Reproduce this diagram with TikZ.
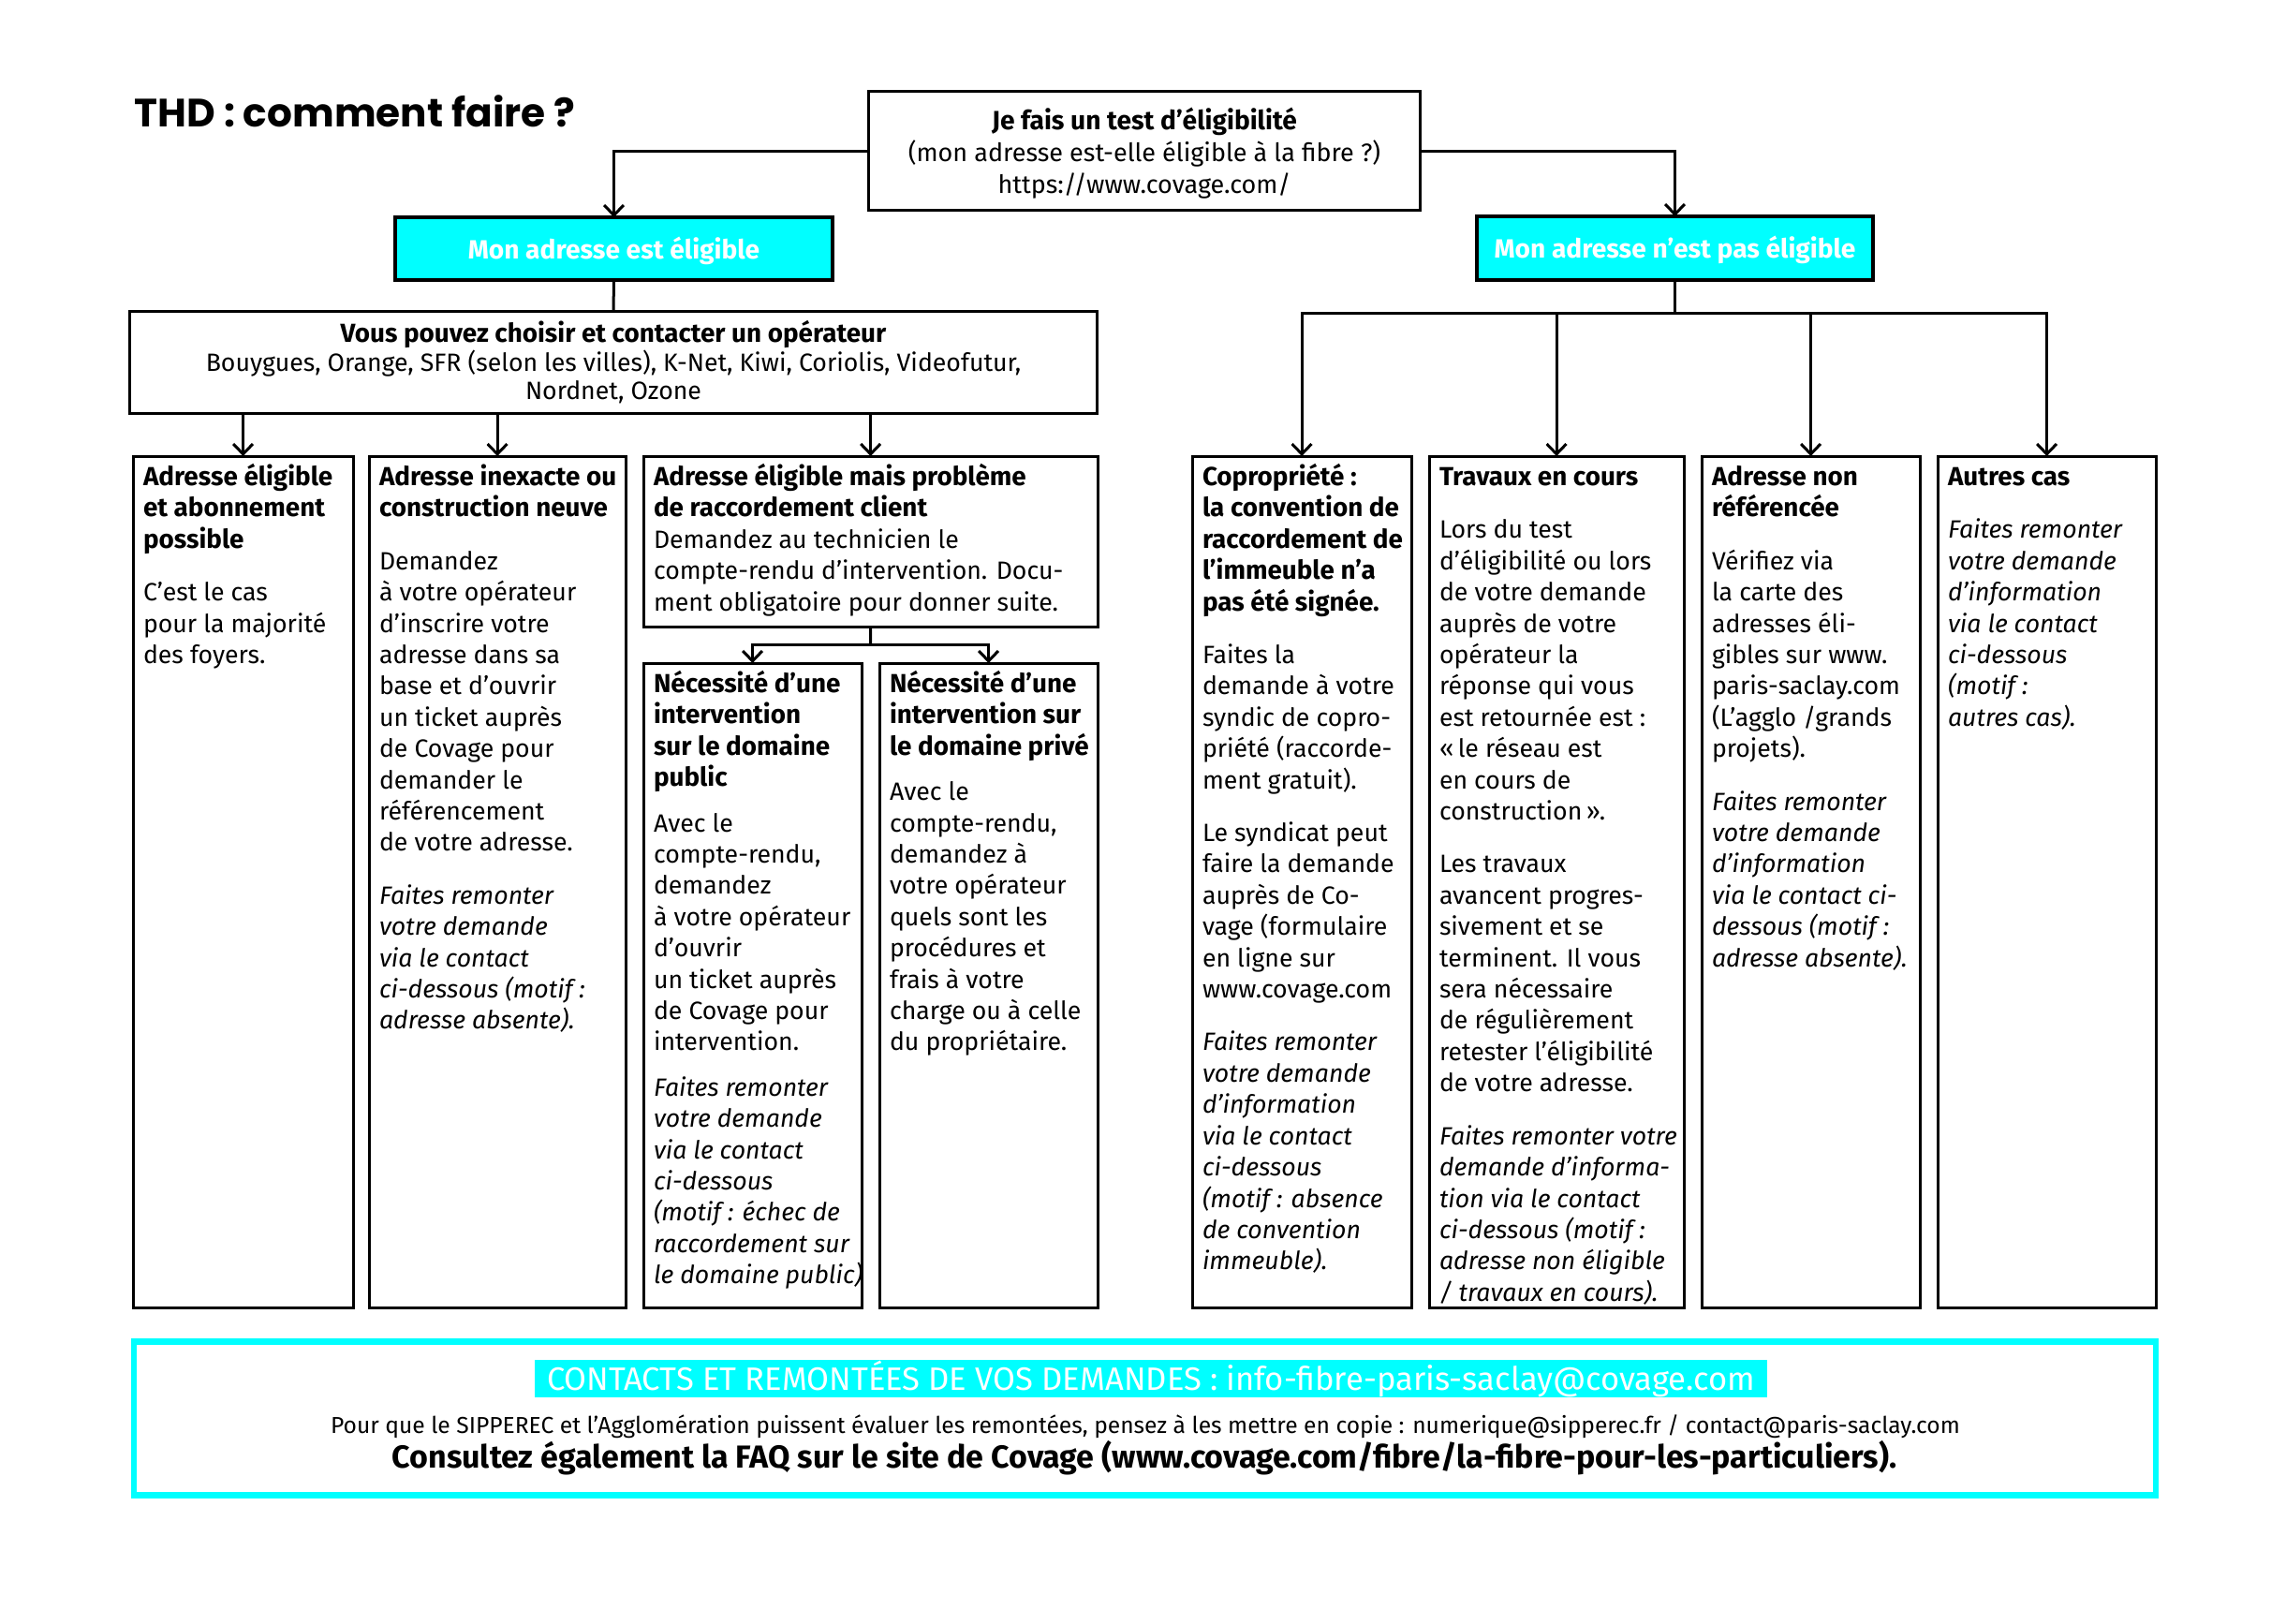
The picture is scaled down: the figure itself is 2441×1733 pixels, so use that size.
\documentclass[tikz,border=0pt]{standalone}
\usepackage{fontspec}
\setmainfont{Fira Sans}[BoldFeatures={Scale=1.044}]
\newfontfamily\titlefont{Poppins}
\usetikzlibrary{arrows.meta}

\newdimen\px \px=0.12mm
\definecolor{cyanvif}{RGB}{0,255,255}

\newcommand{\cardfont}{\fontsize{9.1pt}{11.4pt}\selectfont}
\newcommand{\cardtext}[3]{\parbox[c][#2\px][t]{#1\px}{\vspace*{8\px}\leavevmode\rlap{\parbox[t]{\dimexpr#1\px+40\px\relax}{\cardfont\raggedright\strut#3}}}}
\newcommand{\blockgap}[1][23]{\par\vspace{#1\px}}
\newcommand{\tagtext}[1]{\smash{\raisebox{-10.5\px}{#1}}}

\begin{document}
\begin{tikzpicture}[x=0.012cm, y=-0.012cm, >={Straight Barb[length=1.3mm, width=2.5mm]},
    cadre/.style={draw, line width=3\px, anchor=north west, outer sep=0pt, inner xsep=11\px, inner ysep=0pt},
    etiquette/.style={draw, line width=3.6\px, fill=cyanvif, text=white, outer sep=0pt,
        font=\fontsize{9.2pt}{11pt}\selectfont\bfseries},
    fleche/.style={->, line width=3\px},
    trait/.style={line width=3\px}]

    \useasboundingbox (0,0) rectangle (2441,1733);

    % 1. Titre
    \node[anchor=base west, inner sep=0pt, font=\titlefont\bfseries\fontsize{14.4pt}{16pt}\selectfont] (titre) at (143,135) {THD : comment faire ?};

    % 2. Test d'éligibilité et les deux réponses
    \node[draw, line width=3\px, outer sep=0pt, minimum width=588\px, minimum height=126\px, align=center,
        font=\fontsize{9.2pt}{11.6pt}\selectfont] (test) at (1222,161)
        {\rule{0pt}{9.5pt}\textbf{Je fais un test d'éligibilité}\\(mon adresse est-elle éligible à la fibre ?)\\https://www.covage.com/};
    \node[etiquette, minimum width=467\px, minimum height=67\px] (elig) at (655.5,265.5) {\tagtext{Mon adresse est éligible}};
    \node[etiquette, minimum width=423\px, minimum height=68\px] (nonelig) at (1788.5,265) {\tagtext{Mon adresse n'est pas éligible}};
    \draw[fleche] (test.west) -| (elig.north);
    \draw[fleche] (test.east) -| (nonelig.north);

    % 3. Choix de l'opérateur
    \node[draw, line width=3\px, outer sep=0pt, minimum width=1032\px, minimum height=108\px, align=center,
        font=\fontsize{9.1pt}{10.4pt}\selectfont] (ops) at (655,387)
        {\textbf{Vous pouvez choisir et contacter un opérateur}\\Bouygues, Orange, SFR (selon les villes), K-Net, Kiwi, Coriolis, Videofutur,\\Nordnet, Ozone};
    \draw[trait] (elig.south) -- (ops.north);

    % 4. Cas : adresse éligible
    \node[cadre] (b1) at (142,487) {\cardtext{213}{909}{%
        \textbf{Adresse éligible\\et abonnement\\possible}\blockgap
        C'est le cas\\pour la majorité\\des foyers.}};
    \node[cadre] (b2) at (394,487) {\cardtext{252}{909}{%
        \textbf{Adresse inexacte ou\\construction neuve}\blockgap
        Demandez\\à votre opérateur\\d'inscrire votre\\adresse dans sa\\base et d'ouvrir\\un ticket auprès\\de Covage pour\\demander le\\référencement\\de votre adresse.\blockgap
        \textit{Faites remonter\\votre demande\\via le contact\\ci-dessous (motif :\\adresse absente).}}};
    \node[cadre] (b3) at (687,487) {\cardtext{463}{182}{%
        \textbf{Adresse éligible mais problème\\de raccordement client}\\Demandez au technicien le\\compte-rendu d'intervention. Docu-\\ment obligatoire pour donner suite.}};
    \node[cadre] (b4) at (687,708) {\cardtext{211}{688}{%
        \textbf{Nécessité d'une\\intervention\\sur le domaine\\public}\blockgap[15]
        Avec le\\compte-rendu,\\demandez\\à votre opérateur\\d'ouvrir\\un ticket auprès\\de Covage pour\\intervention.\blockgap[15]
        \textit{Faites remonter\\votre demande\\via le contact\\ci-dessous\\(motif : échec de\\raccordement sur\\le domaine public)}}};
    \node[cadre] (b5) at (939,708) {\cardtext{211}{688}{%
        \textbf{Nécessité d'une\\intervention sur\\le domaine privé}\blockgap[15]
        Avec le\\compte-rendu,\\demandez à\\votre opérateur\\quels sont les\\procédures et\\frais à votre\\charge ou à celle\\du propriétaire.}};

    \foreach \b in {b1,b2,b3}
        \draw[fleche] (ops.south -| \b.north) -- (\b.north);
    \coordinate (relais) at (929.5,688);
    \draw[trait] (b3.south) -- (relais);
    \draw[fleche] (relais) -| (b4.north);
    \draw[fleche] (relais) -| (b5.north);

    % 5. Cas : adresse non éligible
    \node[cadre] (b6) at (1273,487) {\cardtext{212}{909}{%
        \textbf{Copropriété :\\la convention de\\raccordement de\\l'immeuble n'a\\pas été signée.}\blockgap
        Faites la\\demande à votre\\syndic de copro-\\priété (raccorde-\\ment gratuit).\blockgap
        Le syndicat peut\\faire la demande\\auprès de Co-\\vage (formulaire\\en ligne sur\\www.covage.com\blockgap
        \textit{Faites remonter\\votre demande\\d'information\\via le contact\\ci-dessous\\(motif : absence\\de convention\\immeuble).}}};
    \node[cadre] (b7) at (1526,487) {\cardtext{250}{909}{%
        \textbf{Travaux en cours}\blockgap
        Lors du test\\d'éligibilité ou lors\\de votre demande\\auprès de votre\\opérateur la\\réponse qui vous\\est retournée est :\\«\,le réseau est\\en cours de\\construction\,».\blockgap
        Les travaux\\avancent progres-\\sivement et se\\terminent. Il vous\\sera nécessaire\\de régulièrement\\retester l'éligibilité\\de votre adresse.\blockgap
        \textit{Faites remonter votre\\demande d'informa-\\tion via le contact\\ci-dessous (motif :\\adresse non éligible\\/ travaux en cours).}}};
    \node[cadre] (b8) at (1817,487) {\cardtext{211}{909}{%
        \textbf{Adresse non\\référencée}\blockgap
        Vérifiez via\\la carte des\\adresses éli-\\gibles sur www.\\paris-saclay.com\\(L'agglo /grands\\projets).\blockgap
        \textit{Faites remonter\\votre demande\\d'information\\via le contact ci-\\dessous (motif :\\adresse absente).}}};
    \node[cadre] (b9) at (2069,487) {\cardtext{211}{909}{%
        \textbf{Autres cas}\blockgap
        \textit{Faites remonter\\votre demande\\d'information\\via le contact\\ci-dessous\\(motif :\\autres cas).}}};

    \coordinate (bus) at (1788.5,334);
    \draw[trait] (nonelig.south) -- (bus);
    \foreach \b in {b6,b7,b8,b9}
        \draw[fleche] (bus) -| (\b.north);

    % 6. Contacts
    \node[draw=cyanvif, line width=6.5\px, minimum width=2158\px, minimum height=164\px, outer sep=0pt] (pied) at (1222.5,1514.5) {};
    \node[fill=cyanvif, text=white, minimum width=1316\px, minimum height=40\px, inner sep=0pt,
        font=\fontsize{11.8pt}{13pt}\selectfont] (contact) at (1229,1472)
        {CONTACTS ET REMONTÉES DE VOS DEMANDES : info-fibre-paris-saclay@covage.com};
    \node[anchor=base, inner sep=0pt, font=\fontsize{8.4pt}{10pt}\selectfont] (copie) at (1223,1530)
        {Pour que le SIPPEREC et l'Agglomération puissent évaluer les remontées, pensez à les mettre en copie : numerique@sipperec.fr / contact@paris-saclay.com};
    \node[anchor=base, inner sep=0pt, font=\fontsize{11.1pt}{12pt}\selectfont\bfseries] (faq) at (1222,1567)
        {Consultez également la FAQ sur le site de Covage (www.covage.com/fibre/la-fibre-pour-les-particuliers).};

\end{tikzpicture}
\end{document}
